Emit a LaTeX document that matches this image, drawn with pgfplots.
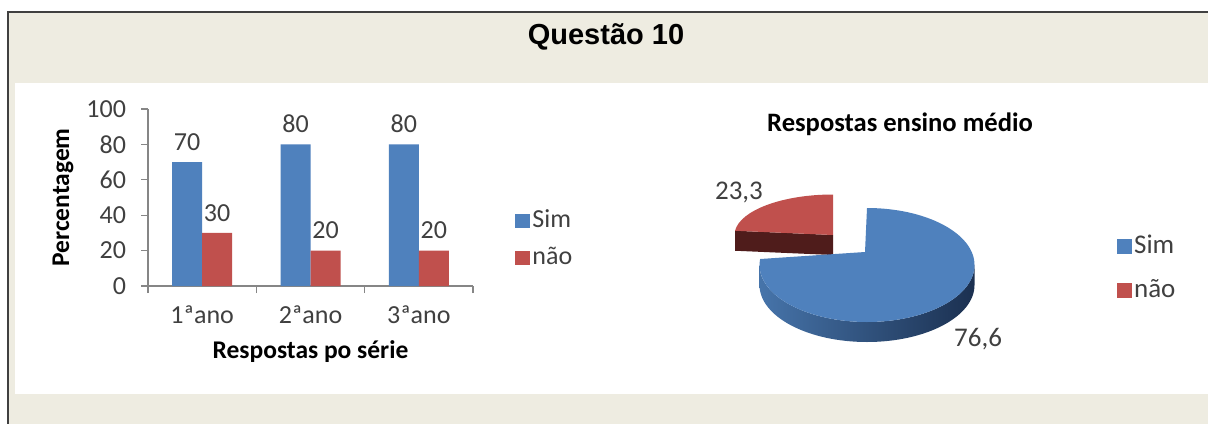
\documentclass[border=0pt]{standalone}
\usepackage{fontspec}
\setmainfont{Carlito}
\newfontfamily\arialfont{Liberation Sans}
\usepackage{pgfplots}
\usepackage{pgfplotstable}
\pgfplotsset{compat=1.18}

\definecolor{bgtan}{HTML}{EEECE1}
\definecolor{framec}{HTML}{404040}
\definecolor{axgray}{HTML}{868686}
\definecolor{txt}{HTML}{404040}
\definecolor{simblue}{HTML}{4F81BD}
\definecolor{naored}{HTML}{C0504D}
\definecolor{sideL}{HTML}{4674AA}
\definecolor{sideR}{HTML}{1B3050}
\definecolor{redside}{HTML}{4F1C1B}

% bar chart: percentage per year
\pgfplotstableread{
x sim nao
0 70 30
1 80 20
2 80 20
}\barsdata

% pie chart: whole secondary school
\pgfplotstableread{
parte valor
sim 76.6
nao 23.3
}\piedata

\pgfplotstablegetelem{0}{valor}\of\piedata \let\vsim\pgfplotsretval
\pgfplotstablegetelem{1}{valor}\of\piedata \let\vnao\pgfplotsretval
% slices start at 12 o'clock, clockwise
\pgfmathsetmacro\fracS{\vsim/(\vsim+\vnao)}
\pgfmathsetmacro\angS{90-360*\fracS}
\pgfmathsetmacro\angR{\angS+360}
\pgfmathsetmacro\rLx{-34+98.5*cos(\angR)}
\pgfmathsetmacro\rLy{30+40.5*sin(\angR)}
\pgfmathsetmacro\rLyb{\rLy-20}

\newcommand\fs{\fontsize{13}{15}\selectfont}
\newcommand\fb{\fontsize{12.75}{15}\selectfont}

\begin{document}
\begin{tikzpicture}
% background, 1 unit = 1 px of the reference
\begin{scope}[x=0.5pt,y=-0.5pt]
  \path[use as bounding box] (0,0) rectangle (1208,423);
  \clip (0,0) rectangle (1208,423);
  \fill[white] (0,0) rectangle (1208,423);
  \fill[bgtan] (8,12) rectangle (1210,425);
  \fill[white] (15,83) rectangle (1210,394);
  \draw[framec, line width=0.8pt] (8,430) -- (8,12) -- (1215,12);
  \node[font=\arialfont\bfseries\fontsize{14.5}{16}\selectfont] at (606,37) {Questão 10};
  \node[font=\bfseries\fontsize{13.3}{15}\selectfont, text=black] at (900,124) {Respostas ensino médio};
\end{scope}

% bar chart
\begin{axis}[
  at={(74pt,-143pt)}, anchor=south west,
  scale only axis, width=162.5pt, height=88.5pt,
  xmin=-0.5, xmax=2.5, ymin=0, ymax=100,
  ybar=0pt, bar width=15pt,
  axis x line*=bottom, axis y line*=left,
  axis line style={axgray, line width=0.6pt},
  tick align=outside,
  major tick length=3.5pt, minor tick length=3.5pt,
  tick style={axgray, line width=0.6pt},
  ytick={0,20,...,100},
  xtick={0,1,2}, xticklabels={1ªano,2ªano,3ªano},
  minor xtick={-0.5,0.5,1.5,2.5},
  major x tick style={draw=none},
  tick label style={font=\fs, text=txt},
  /pgf/number format/assume math mode=true,
  yticklabel style={xshift=-4pt},
  xticklabel style={yshift=-3pt},
  xlabel={Respostas po série}, ylabel={Percentagem},
  label style={font=\bfseries\fb, text=black},
  xlabel style={at={(axis description cs:0.5,-0.373)}, anchor=center},
  ylabel style={at={(axis description cs:-0.2615,0.5)}, anchor=center},
  nodes near coords,
  nodes near coords style={font=\fs, text=txt, yshift=2.2pt},
  legend style={at={(1.111,0.2655)}, anchor=west, draw=none, fill=none,
    font=\fs, text=txt, row sep=8pt,
    nodes={inner sep=1pt, text height=0.75em, text depth=0.1em},
    /tikz/every even column/.append style={column sep=0pt}},
  legend cell align=left,
]
\addplot[fill=simblue, draw=none,
  legend image code/.code={\fill[simblue] (0pt,-3.5pt) rectangle (7.5pt,3.5pt);}]
  table[x=x, y=sim]{\barsdata};
\addlegendentry{Sim}
\addplot[fill=naored, draw=none,
  legend image code/.code={\fill[naored] (0pt,-3.5pt) rectangle (7.5pt,3.5pt);}]
  table[x=x, y=nao]{\barsdata};
\addlegendentry{não}
\end{axis}

% 3D pie, 1 unit = 1 px, centre of the top ellipse at (867,265)
\begin{axis}[
  at={(433.5pt,-132.5pt)}, anchor=center,
  x=0.5pt, y=0.5pt,
  xmin=-150, xmax=150, ymin=-100, ymax=100,
  hide axis, clip=false,
  legend style={at={(1.313,0.4825)}, anchor=west, draw=none, fill=none,
    font=\fontsize{13.5}{15}\selectfont, text=txt, row sep=11.5pt,
    nodes={inner sep=1pt, text height=0.75em, text depth=0.1em},
    /tikz/every even column/.append style={column sep=0pt}},
  legend cell align=left,
]
\addlegendimage{legend image code/.code={\fill[simblue] (0pt,-3.5pt) rectangle (7pt,3.5pt);}}
\addlegendentry{Sim}
\addlegendimage{legend image code/.code={\fill[naored] (0pt,-3.5pt) rectangle (7pt,3.5pt);}}
\addlegendentry{não}

% exploded "não" slice
\fill[redside] (-34,30) -- (\rLx,\rLy) -- (\rLx,\rLyb) -- (-34,10) -- cycle;
\fill[naored] (-34,30) -- (-34,70.5)
  arc[start angle=90, end angle=\angR, x radius=49.25pt, y radius=20.25pt] -- cycle;
% "Sim" slice
\shade[left color=sideL, right color=sideR] (-107.5,0)
  arc[start angle=180, end angle=360, x radius=53.75pt, y radius=28.5pt]
  -- (107.5,-20)
  arc[start angle=0, end angle=-180, x radius=53.75pt, y radius=28.5pt] -- cycle;
\fill[simblue] (-2,13) -- (0,57)
  arc[start angle=90, end angle=\angS, x radius=53.75pt, y radius=28.5pt] -- cycle;

\node[font=\fontsize{13.5}{15}\selectfont, text=txt] at (-128,73) {23,3};
\node[font=\fontsize{13.5}{15}\selectfont, text=txt] at (111,-74) {76,6};
\end{axis}
\end{tikzpicture}
\end{document}
